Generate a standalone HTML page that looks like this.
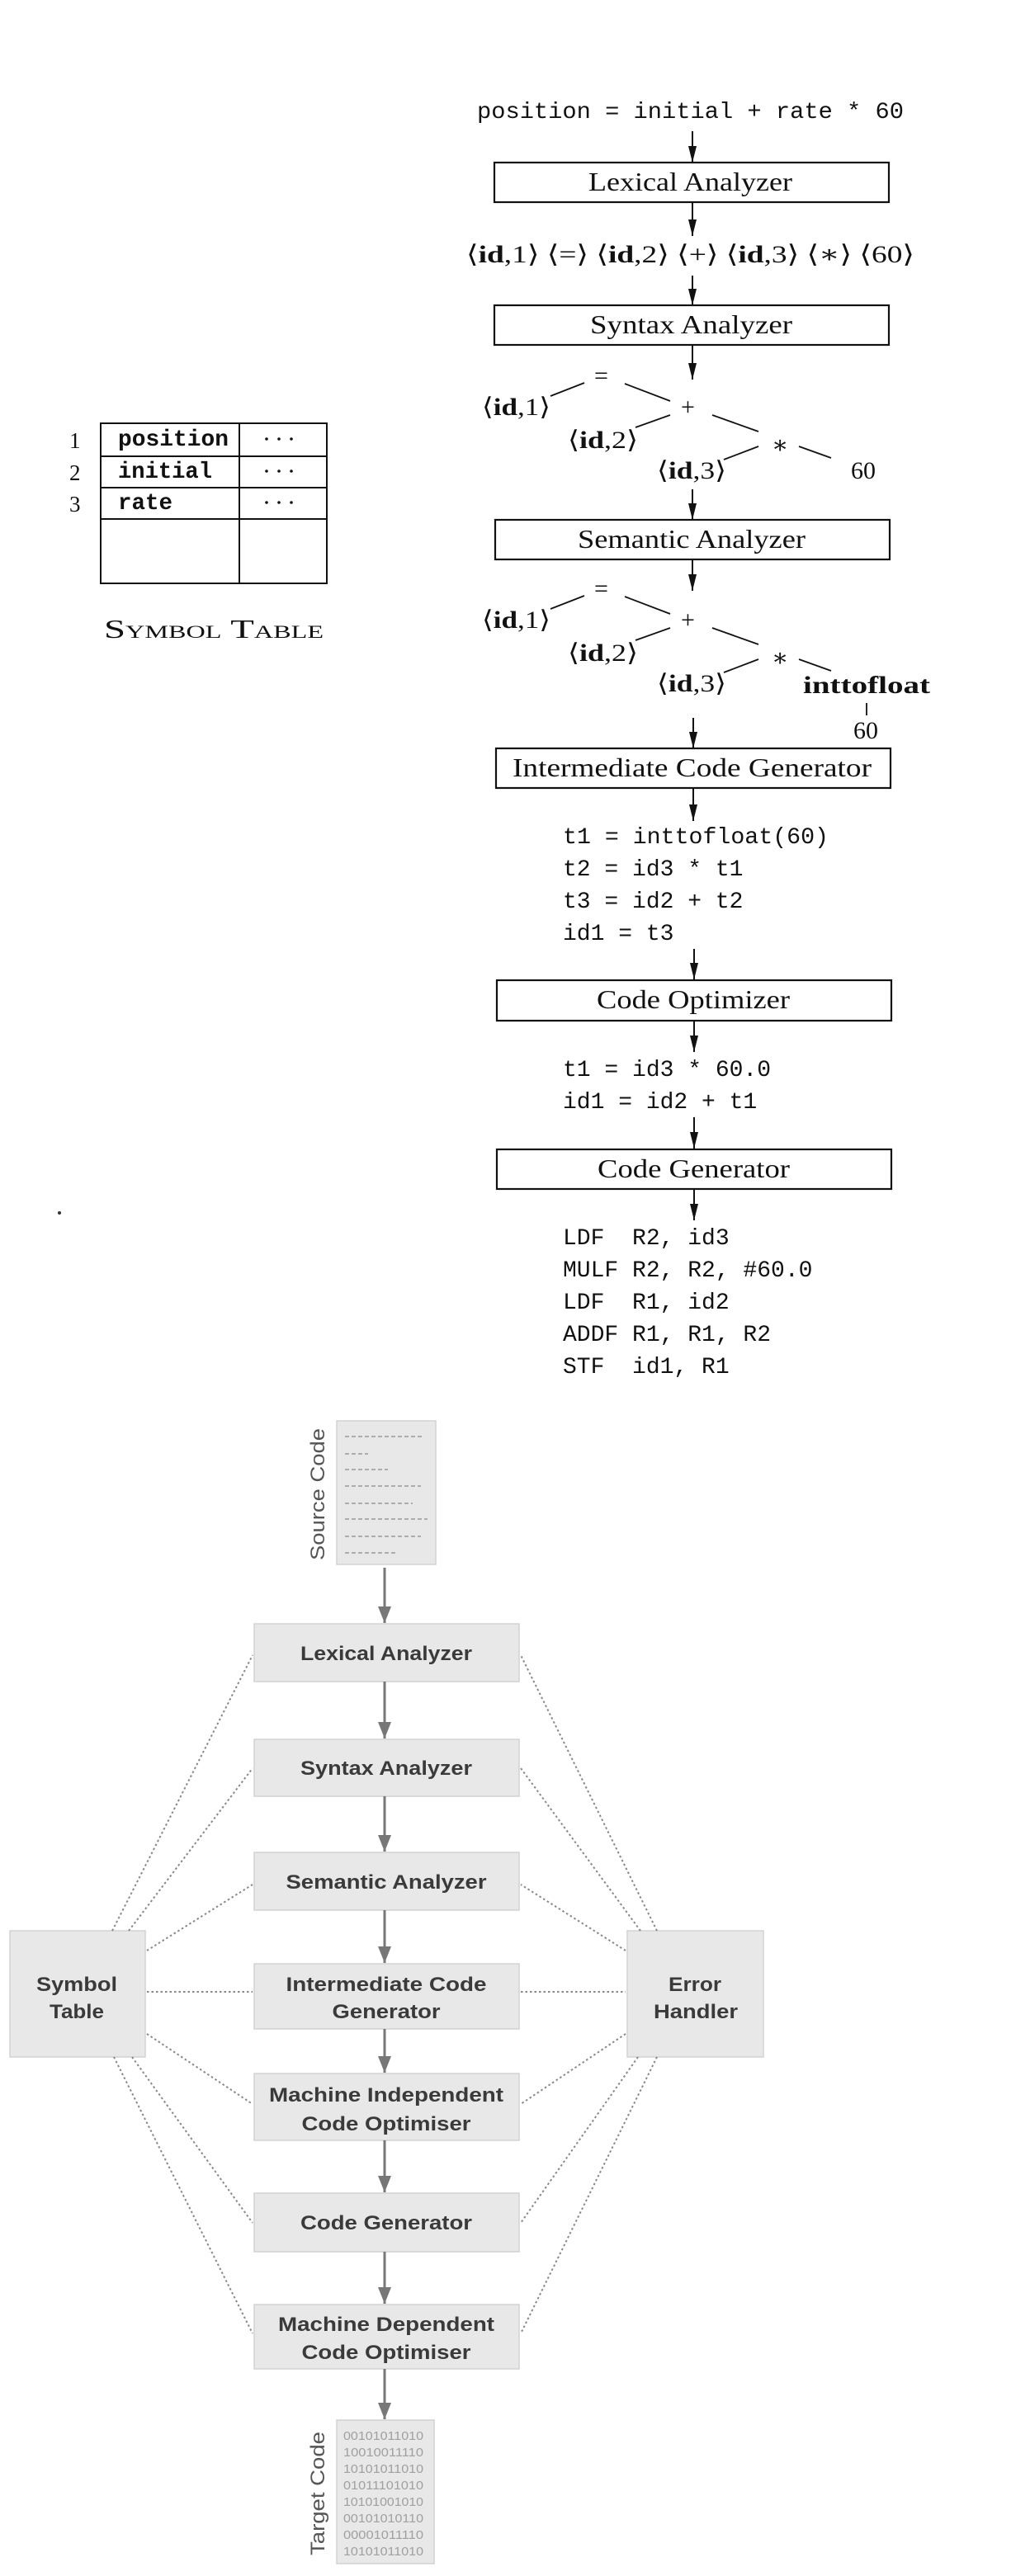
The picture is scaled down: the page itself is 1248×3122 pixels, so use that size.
<!DOCTYPE html>
<html><head><meta charset="utf-8"><style>
html,body{margin:0;padding:0;background:#fff;}
svg{display:block;}
text{white-space:pre;}
.m{font-family:"Liberation Mono",monospace;font-size:28px;fill:#111;}
.s{font-family:"Liberation Serif","DejaVu Serif",serif;fill:#111;}
.h{font-family:"Liberation Sans",sans-serif;font-weight:bold;fill:#3a3a3a;font-size:24px;}
</style></head><body>
<svg width="1248" height="3122" viewBox="0 0 1248 3122" xmlns="http://www.w3.org/2000/svg">
<defs>
<marker id="ab" viewBox="0 0 20 10" refX="20" refY="5" markerWidth="20" markerHeight="10" markerUnits="userSpaceOnUse" orient="auto"><path d="M0,0 L20,5 L0,10 Z" fill="#111"/></marker>
<marker id="ag" viewBox="0 0 20 16" refX="20" refY="8" markerWidth="20" markerHeight="16" markerUnits="userSpaceOnUse" orient="auto"><path d="M0,0 L20,8 L0,16 Z" fill="#777"/></marker>
</defs>

<!-- Symbol table (top) -->
<g stroke="#111" stroke-width="2" fill="none">
<rect x="122" y="513" width="274" height="194"/>
<line x1="290" y1="513" x2="290" y2="707"/>
<line x1="122" y1="553" x2="396" y2="553"/>
<line x1="122" y1="591" x2="396" y2="591"/>
<line x1="122" y1="629" x2="396" y2="629"/>
</g>
<g class="s" font-size="27">
<text x="84" y="543">1</text><text x="84" y="582">2</text><text x="84" y="620">3</text>
</g>
<g class="m" font-size="24" font-weight="bold">
<text x="143" y="540" textLength="134" lengthAdjust="spacingAndGlyphs">position</text>
<text x="143" y="579" textLength="114" lengthAdjust="spacingAndGlyphs">initial</text>
<text x="143" y="617" textLength="66" lengthAdjust="spacingAndGlyphs">rate</text>
</g>
<g fill="#111"><circle cx="323" cy="532" r="1.8"/><circle cx="338" cy="532" r="1.8"/><circle cx="353" cy="532" r="1.8"/>
<circle cx="323" cy="571" r="1.8"/><circle cx="338" cy="571" r="1.8"/><circle cx="353" cy="571" r="1.8"/>
<circle cx="323" cy="609" r="1.8"/><circle cx="338" cy="609" r="1.8"/><circle cx="353" cy="609" r="1.8"/></g>
<text class="s" x="126" y="773" font-size="32" style="font-variant:small-caps" textLength="266" lengthAdjust="spacingAndGlyphs">Symbol Table</text>

<!-- Top pipeline -->
<text class="m" x="578" y="143" textLength="517" lengthAdjust="spacingAndGlyphs">position = initial + rate * 60</text>
<g stroke="#111" stroke-width="2" marker-end="url(#ab)">
<line x1="839" y1="159" x2="839" y2="197"/>
<line x1="839" y1="245" x2="839" y2="286"/>
<line x1="839" y1="334" x2="839" y2="370"/>
<line x1="839" y1="418" x2="839" y2="460"/>
<line x1="839" y1="593" x2="839" y2="630"/>
<line x1="839" y1="678" x2="839" y2="716"/>
<line x1="840" y1="870" x2="840" y2="907"/>
<line x1="840" y1="955" x2="840" y2="995"/>
<line x1="841" y1="1150" x2="841" y2="1187"/>
<line x1="841" y1="1237" x2="841" y2="1275"/>
<line x1="841" y1="1354" x2="841" y2="1392"/>
<line x1="841" y1="1441" x2="841" y2="1479"/>
</g>
<g stroke="#111" stroke-width="2.2" fill="none">
<rect x="599" y="197" width="478" height="48"/>
<rect x="599" y="370" width="478" height="48"/>
<rect x="600" y="630" width="478" height="48"/>
<rect x="601" y="907" width="478" height="48"/>
<rect x="602" y="1188" width="478" height="49"/>
<rect x="602" y="1393" width="478" height="48"/>
</g>
<g class="s" font-size="32">
<text x="713" y="231" textLength="247" lengthAdjust="spacingAndGlyphs">Lexical Analyzer</text>
<text x="715" y="404" textLength="245" lengthAdjust="spacingAndGlyphs">Syntax Analyzer</text>
<text x="700" y="664" textLength="276" lengthAdjust="spacingAndGlyphs">Semantic Analyzer</text>
<text x="621" y="941" textLength="435" lengthAdjust="spacingAndGlyphs">Intermediate Code Generator</text>
<text x="723" y="1222" textLength="234" lengthAdjust="spacingAndGlyphs">Code Optimizer</text>
<text x="724" y="1427" textLength="233" lengthAdjust="spacingAndGlyphs">Code Generator</text>
</g>
<text class="s" x="565" y="318" font-size="30" textLength="543" lengthAdjust="spacingAndGlyphs">⟨<tspan font-weight="bold">id</tspan>,1⟩ ⟨=⟩ ⟨<tspan font-weight="bold">id</tspan>,2⟩ ⟨+⟩ ⟨<tspan font-weight="bold">id</tspan>,3⟩ ⟨∗⟩ ⟨60⟩</text>

<!-- tree 1 -->
<g id="tree">
<g stroke="#111" stroke-width="1.8">
<line x1="708" y1="464" x2="667" y2="480"/>
<line x1="757" y1="465" x2="812" y2="486"/>
<line x1="812" y1="503" x2="770" y2="518"/>
<line x1="863" y1="503" x2="919" y2="523"/>
<line x1="919" y1="541" x2="877" y2="557"/>
<line x1="968" y1="541" x2="1007" y2="555"/>
</g>
<g class="s" font-size="30">
<text x="720" y="465">=</text>
<text x="584" y="503" textLength="83" lengthAdjust="spacingAndGlyphs">⟨<tspan font-weight="bold">id</tspan>,1⟩</text>
<text x="825" y="503">+</text>
<text x="688" y="543" textLength="85" lengthAdjust="spacingAndGlyphs">⟨<tspan font-weight="bold">id</tspan>,2⟩</text>
<text x="935" y="549">∗</text>
<text x="796" y="580" textLength="84" lengthAdjust="spacingAndGlyphs">⟨<tspan font-weight="bold">id</tspan>,3⟩</text>
</g>
</g>
<text class="s" x="1031" y="580" font-size="30">60</text>
<use href="#tree" transform="translate(0,258)"/>
<text class="s" x="973" y="840" font-size="30" font-weight="bold" textLength="154" lengthAdjust="spacingAndGlyphs">inttofloat</text>
<line x1="1050" y1="852" x2="1050" y2="867" stroke="#111" stroke-width="1.8"/>
<text class="s" x="1034" y="895" font-size="30">60</text>

<g class="m">
<text x="682" y="1022" textLength="322" lengthAdjust="spacingAndGlyphs">t1 = inttofloat(60)</text>
<text x="682" y="1061">t2 = id3 * t1</text>
<text x="682" y="1100">t3 = id2 + t2</text>
<text x="682" y="1139">id1 = t3</text>
<text x="682" y="1304">t1 = id3 * 60.0</text>
<text x="682" y="1343">id1 = id2 + t1</text>
<text x="682" y="1508">LDF  R2, id3</text>
<text x="682" y="1547">MULF R2, R2, #60.0</text>
<text x="682" y="1586">LDF  R1, id2</text>
<text x="682" y="1625">ADDF R1, R1, R2</text>
<text x="682" y="1664">STF  id1, R1</text>
</g>
<circle cx="72" cy="1470" r="2" fill="#333"/>

<!-- Bottom diagram -->
<g fill="#e8e8e8" stroke="#d2d2d2" stroke-width="1.5">
<rect x="408" y="1722" width="120" height="174"/>
<rect x="308" y="1968" width="321" height="70"/>
<rect x="308" y="2108" width="321" height="69"/>
<rect x="308" y="2245" width="321" height="70"/>
<rect x="308" y="2380" width="321" height="79"/>
<rect x="308" y="2513" width="321" height="81"/>
<rect x="308" y="2658" width="321" height="71"/>
<rect x="308" y="2793" width="321" height="78"/>
<rect x="12" y="2340" width="164" height="153"/>
<rect x="760" y="2340" width="165" height="153"/>
<rect x="408" y="2933" width="118" height="174"/>
</g>
<g stroke="#999" stroke-width="1.6" stroke-dasharray="5 3">
<line x1="418" y1="1741" x2="512" y2="1741"/>
<line x1="418" y1="1762" x2="446" y2="1762"/>
<line x1="418" y1="1781" x2="470" y2="1781"/>
<line x1="418" y1="1801" x2="510" y2="1801"/>
<line x1="418" y1="1822" x2="500" y2="1822"/>
<line x1="418" y1="1841" x2="518" y2="1841"/>
<line x1="418" y1="1862" x2="510" y2="1862"/>
<line x1="418" y1="1882" x2="480" y2="1882"/>
</g>
<text x="0" y="0" transform="translate(393,1891) rotate(-90)" font-family="Liberation Sans,sans-serif" font-size="24" fill="#555" textLength="160" lengthAdjust="spacingAndGlyphs">Source Code</text>
<text x="0" y="0" transform="translate(393,3097) rotate(-90)" font-family="Liberation Sans,sans-serif" font-size="24" fill="#555" textLength="150" lengthAdjust="spacingAndGlyphs">Target Code</text>
<g font-family="Liberation Sans,sans-serif" font-size="15" fill="#a0a0a0">
<text x="416" y="2957" textLength="97" lengthAdjust="spacingAndGlyphs">00101011010</text>
<text x="416" y="2977" textLength="97" lengthAdjust="spacingAndGlyphs">10010011110</text>
<text x="416" y="2997" textLength="97" lengthAdjust="spacingAndGlyphs">10101011010</text>
<text x="416" y="3017" textLength="97" lengthAdjust="spacingAndGlyphs">01011101010</text>
<text x="416" y="3037" textLength="97" lengthAdjust="spacingAndGlyphs">10101001010</text>
<text x="416" y="3057" textLength="97" lengthAdjust="spacingAndGlyphs">00101010110</text>
<text x="416" y="3077" textLength="97" lengthAdjust="spacingAndGlyphs">00001011110</text>
<text x="416" y="3097" textLength="97" lengthAdjust="spacingAndGlyphs">10101011010</text>
</g>
<g stroke="#777" stroke-width="3" marker-end="url(#ag)">
<line x1="466" y1="1900" x2="466" y2="1967"/>
<line x1="466" y1="2038" x2="466" y2="2107"/>
<line x1="466" y1="2177" x2="466" y2="2244"/>
<line x1="466" y1="2315" x2="466" y2="2379"/>
<line x1="466" y1="2459" x2="466" y2="2512"/>
<line x1="466" y1="2594" x2="466" y2="2657"/>
<line x1="466" y1="2729" x2="466" y2="2792"/>
<line x1="466" y1="2871" x2="466" y2="2932"/>
</g>
<g stroke="#888" stroke-width="2" stroke-dasharray="2.5 3" fill="none">
<line x1="136" y1="2340" x2="306" y2="2006"/>
<line x1="156" y1="2340" x2="306" y2="2143"/>
<line x1="178" y1="2364" x2="306" y2="2284"/>
<line x1="178" y1="2414" x2="306" y2="2414"/>
<line x1="178" y1="2465" x2="306" y2="2550"/>
<line x1="160" y1="2493" x2="306" y2="2694"/>
<line x1="138" y1="2493" x2="306" y2="2828"/>
<line x1="796" y1="2340" x2="631" y2="2006"/>
<line x1="776" y1="2340" x2="631" y2="2143"/>
<line x1="758" y1="2364" x2="631" y2="2284"/>
<line x1="631" y1="2414" x2="758" y2="2414"/>
<line x1="758" y1="2465" x2="631" y2="2550"/>
<line x1="773" y1="2493" x2="631" y2="2694"/>
<line x1="796" y1="2493" x2="631" y2="2828"/>
</g>
<g class="h" text-anchor="middle">
<text x="468" y="2012" textLength="208" lengthAdjust="spacingAndGlyphs">Lexical Analyzer</text>
<text x="468" y="2151" textLength="208" lengthAdjust="spacingAndGlyphs">Syntax Analyzer</text>
<text x="468" y="2289" textLength="243" lengthAdjust="spacingAndGlyphs">Semantic Analyzer</text>
<text x="468" y="2413" textLength="243" lengthAdjust="spacingAndGlyphs">Intermediate Code</text>
<text x="468" y="2446" textLength="131" lengthAdjust="spacingAndGlyphs">Generator</text>
<text x="468" y="2547" textLength="284" lengthAdjust="spacingAndGlyphs">Machine Independent</text>
<text x="468" y="2582" textLength="205" lengthAdjust="spacingAndGlyphs">Code Optimiser</text>
<text x="468" y="2702" textLength="208" lengthAdjust="spacingAndGlyphs">Code Generator</text>
<text x="468" y="2825" textLength="262" lengthAdjust="spacingAndGlyphs">Machine Dependent</text>
<text x="468" y="2859" textLength="205" lengthAdjust="spacingAndGlyphs">Code Optimiser</text>
<text x="93" y="2413" textLength="98" lengthAdjust="spacingAndGlyphs">Symbol</text>
<text x="93" y="2446" textLength="66" lengthAdjust="spacingAndGlyphs">Table</text>
<text x="842" y="2413" textLength="64" lengthAdjust="spacingAndGlyphs">Error</text>
<text x="843" y="2446" textLength="102" lengthAdjust="spacingAndGlyphs">Handler</text>
</g>
</svg>
</body></html>
